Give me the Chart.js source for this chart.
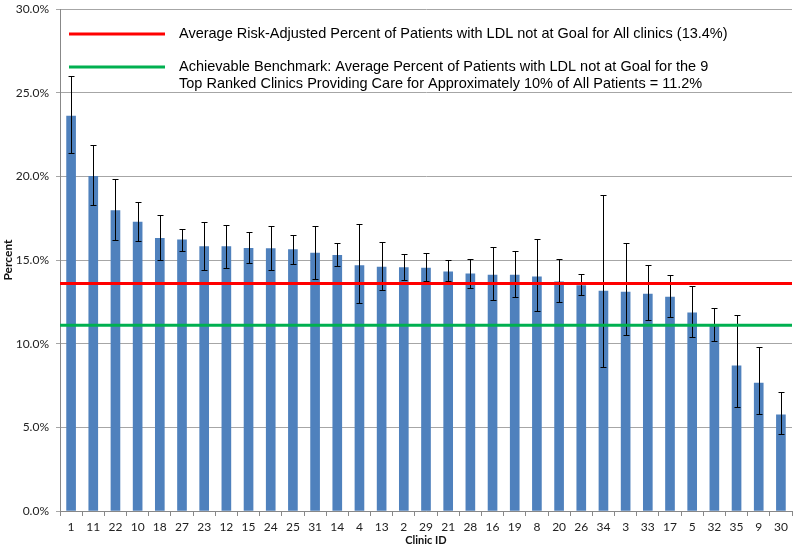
<!DOCTYPE html>
<html>
<head>
<meta charset="utf-8">
<script src="https://cdn.jsdelivr.net/npm/chart.js@4/dist/chart.umd.min.js"></script>
<style>
html,body{margin:0;padding:0;background:#fff;}
#wrap{width:800px;height:554px;position:relative;}
</style>
</head>
<body>
<div id="wrap"><canvas id="c" width="800" height="554"></canvas></div>
<script>
const clinics = ['1','11','22','10','18','27','23','12','15','24','25','31','14','4','13','2','29','21','28','16','19','8','20','26','34','3','33','17','5','32','35','9','30'];
const percent = [23.6,20.0,17.95,17.27,16.3,16.2,15.8,15.8,15.7,15.68,15.62,15.42,15.28,14.66,14.58,14.54,14.52,14.3,14.17,14.1,14.1,13.99,13.69,13.47,13.15,13.09,12.97,12.79,11.85,11.04,8.67,7.65,5.75];
const upperCI = [26.0,21.85,19.85,18.45,17.7,16.87,17.3,17.1,16.66,17.03,16.52,17.03,16.0,17.17,16.1,15.34,15.4,14.98,15.04,15.78,15.52,16.24,15.04,14.15,18.9,16.02,14.69,14.09,13.47,12.13,11.73,9.8,7.1];
const lowerCI = [21.4,18.3,16.2,16.15,15.0,15.56,14.4,14.55,14.8,14.4,14.76,13.89,14.63,12.41,13.19,13.8,13.73,13.73,13.31,12.59,12.79,11.97,12.47,12.89,8.59,10.54,11.42,11.61,10.38,10.14,6.2,5.8,4.6];
const averageLine = 13.6;
const benchmarkLine = 11.1;
const legendAverage = ['Average Risk-Adjusted Percent of Patients with LDL not at Goal for All clinics (13.4%)'];
const legendBenchmark = ['Achievable Benchmark: Average Percent of Patients with LDL not at Goal for the 9','Top Ranked Clinics Providing Care for Approximately 10% of All Patients = 11.2%'];
const yTicks = [0,5,10,15,20,25,30];

const errorBars = {
  id:'errorBars',
  afterDatasetDraw(chart, args){
    if(args.index !== 0) return;
    const ctx = chart.ctx, ys = chart.scales.y, xs = chart.scales.x;
    ctx.save();
    ctx.strokeStyle = '#000';
    ctx.lineWidth = 1;
    clinics.forEach((c,i)=>{
      const x = Math.round(xs.getPixelForValue(i))+0.5;
      const yt = Math.round(ys.getPixelForValue(upperCI[i]))+0.5;
      const yb = Math.round(ys.getPixelForValue(lowerCI[i]))+0.5;
      ctx.beginPath();
      ctx.moveTo(x,yt); ctx.lineTo(x,yb);
      ctx.moveTo(x-3,yt); ctx.lineTo(x+3,yt);
      ctx.moveTo(x-3,yb); ctx.lineTo(x+3,yb);
      ctx.stroke();
    });
    ctx.restore();
  }
};

const inlineLegend = {
  id:'inlineLegend',
  afterDraw(chart){
    const ctx = chart.ctx;
    ctx.save();
    ctx.font = '14.5px "Liberation Sans", Arial, sans-serif';
    ctx.fillStyle = '#000';
    ctx.textBaseline = 'middle';
    ctx.lineWidth = 3;
    ctx.strokeStyle = '#FF0000';
    ctx.beginPath(); ctx.moveTo(69,34); ctx.lineTo(165,34); ctx.stroke();
    legendAverage.forEach((t,k)=>ctx.fillText(t,179,34+k*17));
    ctx.strokeStyle = '#00B050';
    ctx.beginPath(); ctx.moveTo(69,67); ctx.lineTo(165,67); ctx.stroke();
    legendBenchmark.forEach((t,k)=>ctx.fillText(t,179,67+k*17));
    ctx.restore();
  }
};

new Chart(document.getElementById('c'),{
  data:{
    labels: clinics,
    datasets:[
      {type:'bar', data: percent, backgroundColor:'#4F81BD', borderWidth:0,
       grouped:false, barThickness:9, order:3, xAxisID:'x', yAxisID:'y'},
      {type:'line', data:[{x:0,y:averageLine},{x:1,y:averageLine}], borderColor:'#FF0000', borderWidth:3,
       pointRadius:0, order:1, xAxisID:'x2', yAxisID:'y'},
      {type:'line', data:[{x:0,y:benchmarkLine},{x:1,y:benchmarkLine}], borderColor:'#00B050', borderWidth:3,
       pointRadius:0, order:2, xAxisID:'x2', yAxisID:'y'}
    ]
  },
  options:{
    responsive:false,
    animation:false,
    layout:{padding:{left:0,right:8,top:9,bottom:0}},
    plugins:{legend:{display:false}, tooltip:{enabled:false}},
    scales:{
      x:{
        type:'category', offset:true,
        grid:{display:true, drawOnChartArea:false, offset:true, tickLength:5, color:'#888'},
        border:{color:'#888'},
        ticks:{font:{family:'Lato, "Open Sans", sans-serif', size:12}, color:'#222', padding:4, maxRotation:0, autoSkip:false},
        title:{display:true, text:'Clinic ID', font:{family:'Lato, "Open Sans", sans-serif', size:11, weight:'bold'}, color:'#111', padding:{top:0,bottom:7}},
        afterFit(s){ s.height = 43; }
      },
      x2:{type:'linear', min:0, max:1, display:false},
      y:{
        min:0, max:30,
        afterBuildTicks(s){ s.ticks = yTicks.map(v=>({value:v})); },
        grid:{color:'#a6a6a6', tickLength:4},
        border:{color:'#888'},
        ticks:{font:{family:'Lato, "Open Sans", sans-serif', size:12}, color:'#222', padding:7,
               callback:v=>v.toFixed(1)+'%'},
        title:{display:true, text:'Percent', font:{family:'Lato, "Open Sans", sans-serif', size:12, weight:'bold'}, color:'#111', padding:{top:1,bottom:0}},
        afterFit(s){ s.width = 60; s.paddingTop = 0; s.paddingBottom = 0; }
      }
    }
  },
  plugins:[errorBars, inlineLegend]
});
</script>
</body>
</html>
